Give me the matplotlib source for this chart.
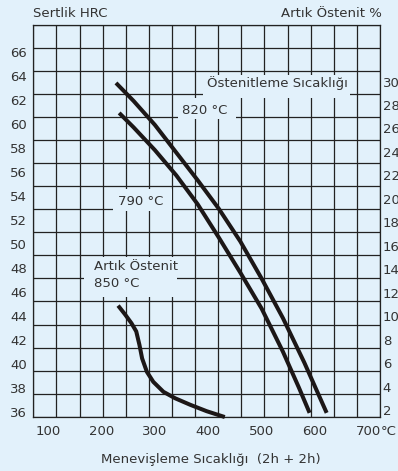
import numpy as np
import matplotlib
matplotlib.use("Agg")
import matplotlib.pyplot as plt
from matplotlib.lines import Line2D
from matplotlib.patches import Rectangle

# ---- data ----
x_ticks = [100, 200, 300, 400, 500, 600, 700]
hrc_ticks = list(range(36, 67, 2))
ra_ticks = list(range(2, 31, 2))

t_820 = [227, 260, 300, 340, 380, 420, 460, 500, 540, 580, 622]
h_820 = [63.4, 61.9, 59.9, 57.6, 55.3, 52.9, 50.2, 47.1, 43.8, 40.1, 35.9]

t_790 = [233, 260, 300, 340, 380, 420, 460, 500, 540, 570, 590]
h_790 = [60.9, 59.7, 57.8, 55.7, 53.3, 50.5, 47.6, 44.6, 41.0, 38.0, 35.9]

t_ra = [231, 244, 256, 265, 271, 276, 285, 297, 316, 338, 366, 397, 431]
ra_850 = [10.9, 10.15, 9.4, 8.7, 7.55, 6.4, 5.25, 4.4, 3.55, 3.0, 2.45, 1.9, 1.4]

BG = "#e2f1fb"
TXT = "#333333"
GRID = "#222222"
CURVE = "#1c1717"
FS = 9.5
W, H = 398, 471

plt.rcParams['font.family'] = ['DejaVu Sans']
fig = plt.figure(figsize=(W / 100, H / 100), dpi=100, facecolor=BG)

L, R, T, B = 33.3, 380.0, 25.0, 416.7
ax = fig.add_axes([L / W, 1 - B / H, (R - L) / W, (B - T) / H])
ax.set_facecolor(BG)
ax.set_xlim(72, 722)
ax.set_ylim(35.58, 68.23)

def axx(px):
    return (px - L) / (R - L)

def axy(py):
    return (B - py) / (B - T)

# decorative grid: 15 x 17 equal cells
for f in np.linspace(0, 1, 16):
    ax.add_line(Line2D([f, f], [0, 1], transform=ax.transAxes, color=GRID, lw=0.9, zorder=1))
for f in np.linspace(0, 1, 18):
    ax.add_line(Line2D([0, 1], [f, f], transform=ax.transAxes, color=GRID, lw=0.9, zorder=1))

# label backgrounds hiding the grid
def bgrect(x0, x1, y0, y1):
    ax.add_patch(Rectangle((axx(x0), axy(y1)), axx(x1) - axx(x0), axy(y0) - axy(y1),
                           transform=ax.transAxes, facecolor=BG, edgecolor='none', zorder=2))

bgrect(203, 350, 74.5, 97.5)
bgrect(178, 236, 98, 119)
bgrect(113, 172, 189, 211)
bgrect(84, 177, 257, 297)

def lab(px, py, s):
    ax.text(axx(px), axy(py), s, transform=ax.transAxes, ha='left', va='center',
            fontsize=FS, color=TXT, zorder=3)

lab(207, 83.3, "Östenitleme Sıcaklığı")
lab(182, 110, "820 °C")
lab(118.5, 201.7, "790 °C")
lab(93.5, 266.7, "Artık Östenit")
lab(94.5, 283.3, "850 °C")

ax.plot(t_820, h_820, color=CURVE, lw=2.9, solid_capstyle='butt', solid_joinstyle='round',
        zorder=5, clip_on=False)
ax.plot(t_790, h_790, color=CURVE, lw=2.9, solid_capstyle='butt', solid_joinstyle='round',
        zorder=5, clip_on=False)

ax.set_xticks(x_ticks)
ax.set_xticklabels([str(v) for v in x_ticks])
ax.set_yticks(hrc_ticks)
ax.set_yticklabels([str(v) for v in hrc_ticks])
ax.tick_params(axis='both', length=0, labelsize=FS, labelcolor=TXT)
ax.tick_params(axis='y', pad=4.5)
ax.tick_params(axis='x', pad=6)
for sp in ax.spines.values():
    sp.set_color(GRID)
    sp.set_linewidth(0.9)

ax2 = ax.twinx()
ax2.set_ylim(1.43, 34.82)
ax2.set_yticks(ra_ticks)
ax2.set_yticklabels([str(v) for v in ra_ticks])
ax2.tick_params(axis='y', length=0, labelsize=FS, labelcolor=TXT, pad=2)
for sp in ax2.spines.values():
    sp.set_visible(False)
ax2.plot(t_ra, ra_850, color=CURVE, lw=2.9, solid_capstyle='butt', solid_joinstyle='round',
         zorder=5, clip_on=False)

# "°C" after the 700 label
fig.text(381 / W, 1 - 431.7 / H, "°C", ha='left', va='center', fontsize=FS, color=TXT)

fig.text(33.3 / W, 1 - 13.3 / H, "Sertlik HRC", ha='left', va='center', fontsize=FS, color=TXT)
fig.text(381.7 / W, 1 - 13.3 / H, "Artık Östenit %", ha='right', va='center', fontsize=FS, color=TXT)
fig.text(211 / W, 1 - 460 / H, "Menevişleme Sıcaklığı  (2h + 2h)", ha='center', va='center',
         fontsize=FS, color=TXT)

fig.savefig("out.png", dpi=100, facecolor=BG)
